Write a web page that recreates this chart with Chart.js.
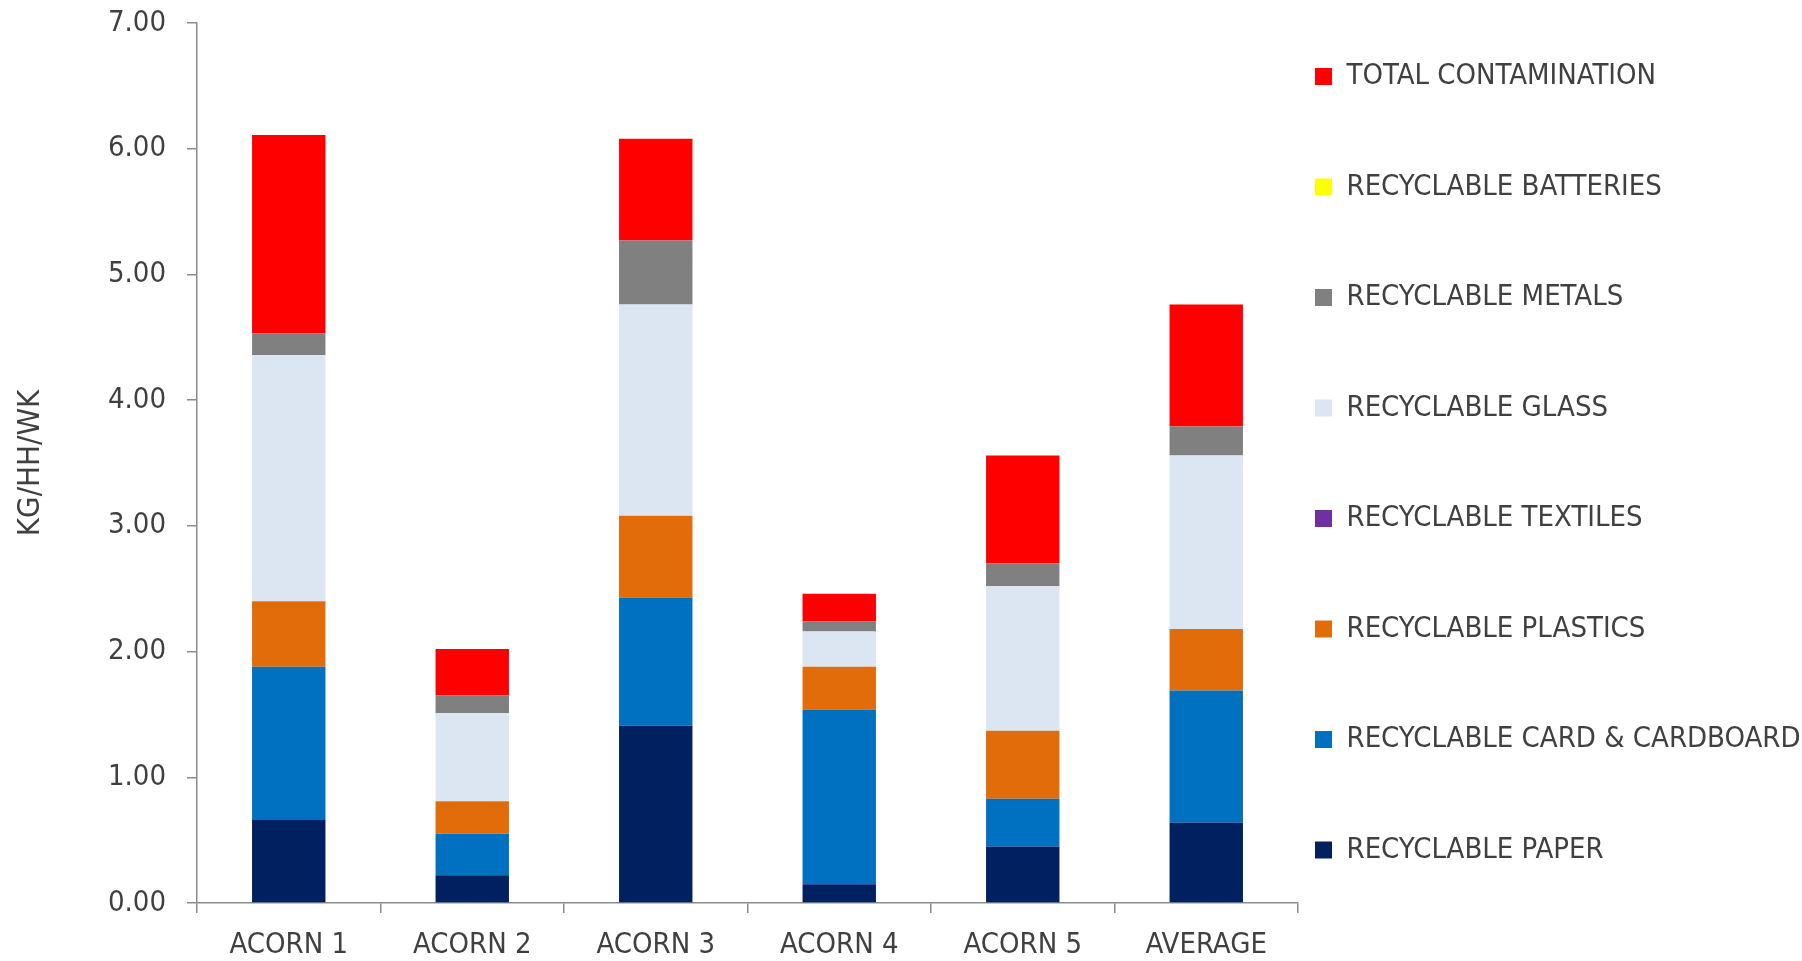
<!DOCTYPE html>
<html>
<head>
<meta charset="utf-8">
<script src="https://cdn.jsdelivr.net/npm/chart.js@4/dist/chart.umd.min.js"></script>
<style>
  html, body { margin: 0; padding: 0; background: #ffffff; }
  #wrap { width: 1802px; height: 961px; }
</style>
</head>
<body>
<div id="wrap"><canvas id="c" width="1802" height="961"></canvas></div>
<script>
const categories = ['ACORN 1', 'ACORN 2', 'ACORN 3', 'ACORN 4', 'ACORN 5', 'AVERAGE'];
const yTicks = [0, 1, 2, 3, 4, 5, 6, 7];

const paper         = [0.66, 0.22, 1.41, 0.15, 0.45, 0.64];
const cardboard     = [1.22, 0.33, 1.02, 1.39, 0.38, 1.05];
const plastics      = [0.52, 0.26, 0.65, 0.34, 0.54, 0.49];
const textiles      = [0, 0, 0, 0, 0, 0];
const glass         = [1.96, 0.70, 1.68, 0.28, 1.15, 1.38];
const metals        = [0.17, 0.14, 0.51, 0.08, 0.18, 0.23];
const batteries     = [0, 0, 0, 0, 0, 0];
const contamination = [1.58, 0.37, 0.81, 0.22, 0.86, 0.97];

const FONT = "'DejaVu Sans Condensed', 'Liberation Sans Narrow', 'Liberation Sans', sans-serif";
const FS = 29;
const TEXT = '#404040';
const AXIS = '#8c8c8c';

const series = [
  ['RECYCLABLE PAPER', paper, '#002060'],
  ['RECYCLABLE CARD & CARDBOARD', cardboard, '#0070C0'],
  ['RECYCLABLE PLASTICS', plastics, '#E36C0A'],
  ['RECYCLABLE TEXTILES', textiles, '#7030A0'],
  ['RECYCLABLE GLASS', glass, '#DCE6F2'],
  ['RECYCLABLE METALS', metals, '#808080'],
  ['RECYCLABLE BATTERIES', batteries, '#FFFF00'],
  ['TOTAL CONTAMINATION', contamination, '#FF0000']
];

const legendWidthPlugin = {
  id: 'legendWidth',
  afterInit(chart) {
    const lg = chart.legend;
    if (!lg) return;
    const orig = lg.fit.bind(lg);
    lg.fit = function () { orig(); this.width = 1802 - 1298; };
  }
};

new Chart(document.getElementById('c'), {
  type: 'bar',
  data: {
    labels: categories,
    datasets: series.map(([label, data, color]) => ({
      label, data, backgroundColor: color, borderWidth: 0,
      barPercentage: 0.4, categoryPercentage: 1.0
    }))
  },
  plugins: [legendWidthPlugin],
  options: {
    responsive: false,
    devicePixelRatio: 1,
    animation: false,
    layout: { padding: { top: 23, left: 0, right: 0, bottom: 0 } },
    plugins: {
      tooltip: { enabled: false },
      legend: {
        position: 'right',
        align: 'start',
        reverse: true,
        title: { display: true, text: '', padding: 0, font: { size: 10, lineHeight: '22px' } },
        labels: {
          boxWidth: 17,
          boxHeight: 17,
          padding: 17,
          color: TEXT,
          font: { family: FONT, size: FS, lineHeight: '93.5px' },
          generateLabels(chart) {
            const items = Chart.defaults.plugins.legend.labels.generateLabels(chart);
            items.forEach(it => { it.text = [it.text]; it.lineWidth = 0; });
            return items;
          }
        }
      }
    },
    scales: {
      x: {
        stacked: true,
        grid: { display: true, drawOnChartArea: false, drawTicks: true, tickLength: 10, color: AXIS, lineWidth: 1.5, offset: true },
        border: { display: true, color: AXIS, width: 1.5 },
        ticks: { color: TEXT, font: { family: FONT, size: FS }, padding: 15, maxRotation: 0 },
        afterFit(scale) { scale.height = 58; }
      },
      y: {
        stacked: true,
        min: 0,
        max: 7,
        afterBuildTicks(scale) { scale.ticks = yTicks.map(v => ({ value: v })); },
        grid: { display: true, drawOnChartArea: false, drawTicks: true, tickLength: 10, color: AXIS, lineWidth: 1.5 },
        border: { display: true, color: AXIS, width: 1.5 },
        ticks: {
          color: TEXT, font: { family: FONT, size: FS }, padding: 21,
          callback: (v) => Number(v).toFixed(2)
        },
        title: { display: true, text: 'KG/HH/WK', color: TEXT, font: { family: FONT, size: 31 }, padding: { top: 12, bottom: 0 } },
        afterFit(scale) { scale.width = 197; scale.paddingTop = 0; scale.paddingBottom = 0; }
      }
    }
  }
});
</script>
</body>
</html>
